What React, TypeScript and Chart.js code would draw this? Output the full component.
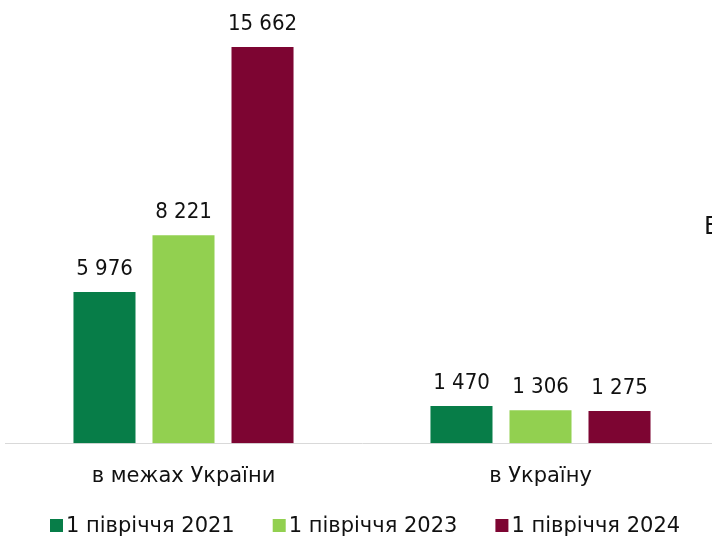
import React, { useEffect, useRef } from "react";
import { Chart, registerables } from "chart.js";

Chart.register(...registerables);

const categories = ["в межах України", "в Україну"];
const seriesNames = ["1 півріччя 2021", "1 півріччя 2023", "1 півріччя 2024"];
const values2021 = [5976, 1470];
const values2023 = [8221, 1306];
const values2024 = [15662, 1275];
const seriesColors = ["#077d48", "#92d050", "#7d0532"];
const sideText = "В";

const FONT = "'DejaVu Sans', sans-serif";
const FONT_COND = "'DejaVu Sans Condensed', 'DejaVu Sans', sans-serif";
const fmt = (v: number) => String(v).replace(/\B(?=(\d{3})+(?!\d))/g, " ");

const labelsPlugin = {
  id: "valueLabels",
  afterDatasetsDraw(chart: any) {
    const ctx = chart.ctx;
    ctx.save();
    ctx.font = `22px ${FONT_COND}`;
    ctx.fillStyle = "#111";
    ctx.textAlign = "center";
    ctx.textBaseline = "middle";
    chart.data.datasets.forEach((ds: any, i: number) => {
      const meta = chart.getDatasetMeta(i);
      meta.data.forEach((bar: any, j: number) => {
        ctx.fillText(fmt(ds.data[j]), bar.x, bar.y - 23);
      });
    });
    // legend
    ctx.font = `21px ${FONT}`;
    let x = 50;
    const y = 526;
    ctx.textAlign = "left";
    chart.data.datasets.forEach((ds: any) => {
      ctx.fillStyle = ds.backgroundColor;
      ctx.fillRect(x, y - 7, 13, 13);
      ctx.fillStyle = "#111";
      ctx.fillText(ds.label, x + 16, y + 1);
      x += 16 + ctx.measureText(ds.label).width + 38;
    });
    ctx.font = `24px ${FONT}`;
    ctx.fillText(sideText, 704, 228);
    ctx.restore();
  },
};

export default function App() {
  const ref = useRef<HTMLCanvasElement>(null);
  useEffect(() => {
    const chart = new Chart(ref.current!, {
      type: "bar",
      data: {
        labels: categories,
        datasets: [values2021, values2023, values2024].map((d, i) => ({
          label: seriesNames[i],
          data: d,
          backgroundColor: seriesColors[i],
          categoryPercentage: 0.664,
          barPercentage: 0.785,
        })),
      },
      options: {
        responsive: false,
        animation: false,
        devicePixelRatio: 1,
        layout: { padding: { left: 5, right: 21, top: 38.5, bottom: 27.6 } },
        plugins: { legend: { display: false }, tooltip: { enabled: false } },
        scales: {
          x: {
            grid: { display: false, drawTicks: false },
            border: { color: "#d9d9d9", width: 1 },
            ticks: { font: { family: FONT, size: 21 }, color: "#111", padding: 21 },
          },
          y: { display: false, min: 0, max: 16000 },
        },
      },
      plugins: [labelsPlugin],
    });
    return () => chart.destroy();
  }, []);
  return (
    <div style={{ position: "fixed", left: 0, top: 0, width: 712, height: 538, overflow: "hidden", background: "#fff" }}>
      <canvas ref={ref} width={740} height={538} style={{ width: 740, height: 538 }} />
    </div>
  );
}
